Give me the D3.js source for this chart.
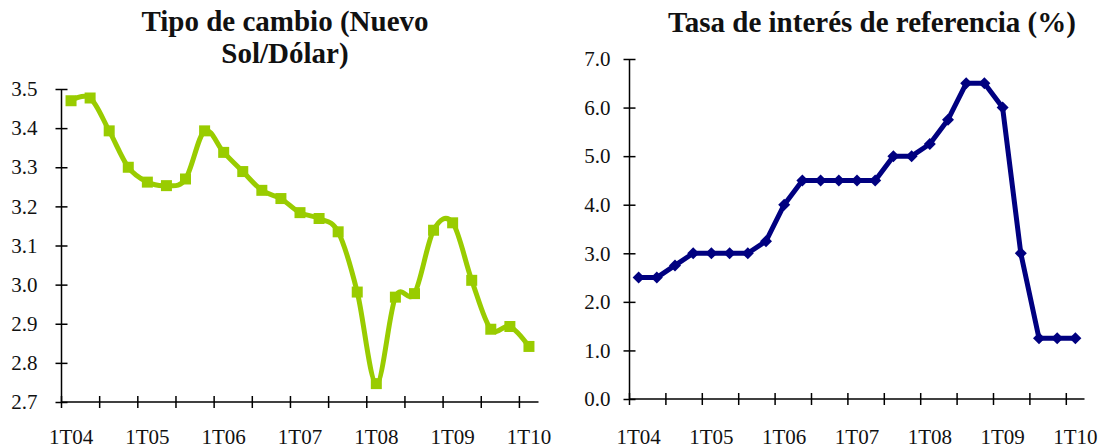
<!DOCTYPE html>
<html>
<head>
<meta charset="utf-8">
<script src="https://cdn.jsdelivr.net/npm/d3@7"></script>
<style>
  body { margin: 0; background: #fff; }
  .axis path, .axis line { stroke: #000; stroke-width: 1.5; }
  .title { font-size: 29px; font-weight: bold; fill: #111; text-anchor: middle; }
</style>
</head>
<body>
<svg id="chart" width="1106" height="448"></svg>
<script>
// quarters 1T04 .. 1T10
var quarters = ["1T04","2T04","3T04","4T04","1T05","2T05","3T05","4T05",
  "1T06","2T06","3T06","4T06","1T07","2T07","3T07","4T07",
  "1T08","2T08","3T08","4T08","1T09","2T09","3T09","4T09","1T10"];
var tickLabels = ["1T04","1T05","1T06","1T07","1T08","1T09","1T10"];

// Tipo de cambio (Nuevo Sol/Dólar)
var tipoCambio = [3.470, 3.477, 3.393, 3.300, 3.262, 3.253, 3.270, 3.393,
  3.338, 3.289, 3.241, 3.220, 3.184, 3.169, 3.135, 2.981,
  2.747, 2.968, 2.977, 3.139, 3.158, 3.011, 2.886, 2.893, 2.842];
var cambioTicks = [2.7, 2.8, 2.9, 3.0, 3.1, 3.2, 3.3, 3.4, 3.5];

// Tasa de interés de referencia (%)
var tasaRef = [2.50, 2.50, 2.75, 3.00, 3.00, 3.00, 3.00, 3.25,
  4.00, 4.50, 4.50, 4.50, 4.50, 4.50, 5.00, 5.00,
  5.25, 5.75, 6.50, 6.50, 6.00, 3.00, 1.25, 1.25, 1.25];
var tasaTicks = [0, 1, 2, 3, 4, 5, 6, 7];

var serif = "'Liberation Serif', 'DejaVu Serif', serif";
var svg = d3.select("#chart").style("font-family", serif);

function panel(opt) {
  var x = d3.scaleBand().domain(quarters).range([opt.left, opt.right]);
  var y = d3.scaleLinear().domain(opt.domain).range([opt.bottom, opt.top]);
  var g = svg.append("g");

  // titles
  opt.title.forEach(function(t, i) {
    g.append("text").attr("class", "title").style("font-family", serif)
      .attr("x", opt.titleX).attr("y", opt.titleY + i * 32).text(t);
  });

  // y axis, ticks cross the line
  var ya = g.append("g").attr("class", "axis")
    .attr("transform", "translate(" + opt.left + ",0)")
    .call(d3.axisLeft(y).tickValues(opt.ticks).tickFormat(d3.format(".1f"))
      .tickSizeInner(6).tickSizeOuter(0).tickPadding(opt.ypad));
  ya.selectAll(".tick line").attr("x1", 6);
  ya.select(".domain").attr("d", "M0," + opt.top + "V" + opt.bottom);

  // x axis: labels every 4 quarters, tick marks every 2
  var xa = g.append("g").attr("class", "axis")
    .attr("transform", "translate(0," + opt.bottom + ")")
    .call(d3.axisBottom(x).tickValues(tickLabels).tickSize(0));
  xa.selectAll(".tick line").remove();
  xa.select(".domain").attr("d", "M" + opt.left + ",0H" + opt.right);
  xa.selectAll(".tick text").attr("dy", 0).attr("y", 444 - opt.bottom);
  xa.selectAll(".mark").data(quarters.filter(function(q, i) { return i % 2 === 0; }))
    .enter().append("line").attr("class", "mark")
    .attr("x1", function(d) { return x(d); }).attr("x2", function(d) { return x(d); })
    .attr("y1", -6).attr("y2", 6);

  [ya, xa].forEach(function(a) {
    a.attr("font-family", serif).attr("font-size", 21);
    a.selectAll("text").style("font-family", serif).style("font-size", "21px").attr("fill", "#111");
  });

  var cx = function(d, i) { return x(quarters[i]) + x.bandwidth() / 2; };
  var line = d3.line().x(cx).y(function(d) { return y(d); }).curve(opt.curve);

  g.append("path").datum(opt.values)
    .attr("fill", "none").attr("stroke", opt.color).attr("stroke-width", 5)
    .attr("stroke-linejoin", "round").attr("d", line);

  g.selectAll(".pt").data(opt.values).enter().append("path")
    .attr("class", "pt").attr("fill", opt.color)
    .attr("transform", function(d, i) { return "translate(" + cx(d, i) + "," + y(d) + ")"; })
    .attr("d", opt.marker);
}

panel({
  left: 61.5, right: 538.5, top: 89, bottom: 402,
  domain: [2.7, 3.5], ticks: cambioTicks, values: tipoCambio, ypad: 18,
  color: "#99cc00", curve: d3.curveCatmullRom.alpha(0),
  marker: "M-5.5,-5.5H5.5V5.5H-5.5Z",
  title: ["Tipo de cambio (Nuevo", "Sol/Dólar)"], titleX: 285, titleY: 31
});

panel({
  left: 629.5, right: 1084.5, top: 59, bottom: 399,
  domain: [0, 7], ticks: tasaTicks, values: tasaRef, ypad: 13,
  color: "#000080", curve: d3.curveLinear,
  marker: "M0,-6L6,0L0,6L-6,0Z",
  title: ["Tasa de interés de referencia (%)"], titleX: 872, titleY: 32
});
</script>
</body>
</html>
